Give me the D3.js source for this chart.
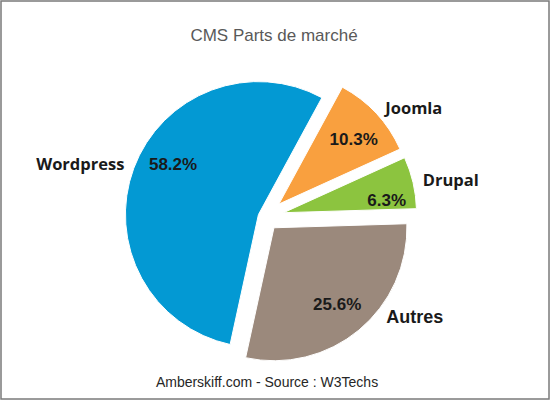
<!DOCTYPE html>
<html lang="fr">
  <head>
    <meta charset="UTF-8" />
    <title>CMS Parts de marché</title>
    <script src="https://d3js.org/d3.v7.min.js"></script>
    <style>
      body {
        margin: 0;
        background: #fff;
      }
      svg {
        display: block;
      }
      .title {
        font-family: 'Liberation Sans', Arial, sans-serif;
        font-size: 17px;
        fill: #595959;
      }
      .footer {
        font-family: 'Liberation Sans', Arial, sans-serif;
        font-size: 14px;
        fill: #262626;
      }
      .pct {
        font-family: 'Liberation Sans', Arial, sans-serif;
        font-size: 17px;
        font-weight: bold;
        fill: #1a1a1a;
      }
      .name {
        font-family: 'Open Sans', 'DejaVu Sans', sans-serif;
        font-size: 16.5px;
        font-weight: bold;
        fill: #1a1a1a;
      }
    </style>
  </head>
  <body>
    <div id="chart"></div>

    <script>
      // slices in drawing order (clockwise from the start angle)
      const categories = ['Joomla', 'Drupal', 'Autres', 'Wordpress'];
      // slice sizes as drawn in the picture
      const values = [10.3, 6.3, 28.9, 54.5];
      // percentage labels as printed on the slices
      const pctLabels = ['10.3%', '6.3%', '25.6%', '58.2%'];
      const colors = ['#f9a03f', '#8cc43f', '#9b897c', '#0399d3'];

      const width = 550,
        height = 401;
      const cx = 265,
        cy = 217,
        radius = 133;
      const startDeg = 28.5;

      // how far each slice is pulled out of the pie
      const explode = { Joomla: 19, Drupal: 19, Autres: 14, Wordpress: 7 };
      // small angle nudges (degrees) for labels, like Excel's best fit
      const pctNudge = { Joomla: 2, Drupal: 6, Autres: 0, Wordpress: 10 };
      const nameNudge = { Joomla: 1, Drupal: 0, Autres: -12, Wordpress: 0 };

      const rad = (deg) => (deg * Math.PI) / 180;

      const svg = d3
        .select('#chart')
        .append('svg')
        .attr('width', width)
        .attr('height', height);

      svg
        .append('rect')
        .attr('x', 1)
        .attr('y', 1)
        .attr('width', width - 2)
        .attr('height', height - 3)
        .attr('fill', '#fff')
        .attr('stroke', '#7a7a7a')
        .attr('stroke-width', 1.5);

      svg
        .append('text')
        .attr('class', 'title')
        .attr('x', 274)
        .attr('y', 41)
        .attr('text-anchor', 'middle')
        .text('CMS Parts de marché');

      const data = categories.map((c, i) => ({
        name: c,
        value: values[i],
        pct: pctLabels[i],
        color: colors[i],
      }));

      const pie = d3
        .pie()
        .sort(null)
        .value((d) => d.value)
        .startAngle(rad(startDeg))
        .endAngle(rad(startDeg + 360));

      const arc = d3.arc().innerRadius(0).outerRadius(radius);
      const arcs = pie(data);

      const g = svg
        .append('g')
        .attr('transform', `translate(${cx},${cy})`);

      const mid = (d) => (d.startAngle + d.endAngle) / 2;
      const polar = (a, r) => [Math.sin(a) * r, -Math.cos(a) * r];

      const slice = g
        .selectAll('g.slice')
        .data(arcs)
        .join('g')
        .attr('class', 'slice')
        .attr('transform', (d) => {
          const [dx, dy] = polar(mid(d), explode[d.data.name]);
          return `translate(${dx},${dy})`;
        });

      slice
        .append('path')
        .attr('d', arc)
        .attr('fill', (d) => d.data.color)
        .attr('stroke', '#fff')
        .attr('stroke-width', 1);

      // percentage inside each slice
      slice
        .append('text')
        .attr('class', 'pct')
        .attr('text-anchor', 'middle')
        .attr('dy', '0.35em')
        .attr('transform', (d) => {
          const a = mid(d) + rad(pctNudge[d.data.name]);
          const r = d.data.name === 'Drupal' ? 104 : 99;
          const [x, y] = polar(a, r);
          return `translate(${x},${y})`;
        })
        .text((d) => d.data.pct);

      // category name outside each slice
      slice
        .append('text')
        .attr('class', 'name')
        .attr('dy', '0.35em')
        .attr('text-anchor', (d) =>
          mid(d) > Math.PI && mid(d) < 2 * Math.PI ? 'end' : 'start'
        )
        .attr('transform', (d) => {
          const a = mid(d) + rad(nameNudge[d.data.name]);
          const [x, y] = polar(a, 143);
          return `translate(${x},${y})`;
        })
        .style('font-family', (d) =>
          d.data.name === 'Autres'
            ? "'Liberation Sans', Arial, sans-serif"
            : null
        )
        .style('font-size', (d) => (d.data.name === 'Autres' ? '18px' : null))
        .text((d) => d.data.name);

      svg
        .append('text')
        .attr('class', 'footer')
        .attr('x', 267)
        .attr('y', 387)
        .attr('text-anchor', 'middle')
        .text('Amberskiff.com - Source : W3Techs');
    </script>
  </body>
</html>
